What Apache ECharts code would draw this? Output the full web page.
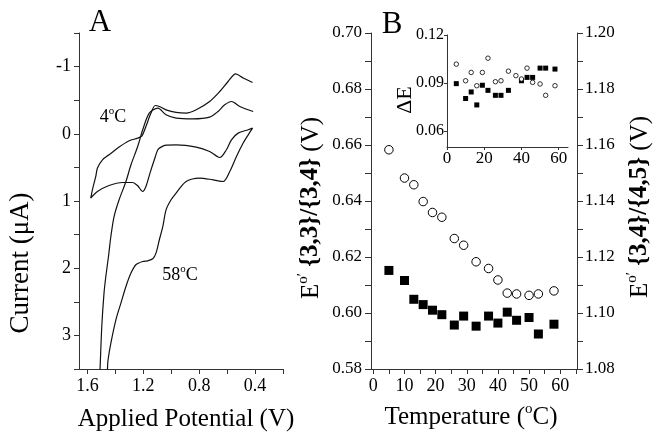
<!DOCTYPE html>
<html>
<head>
<meta charset="utf-8">
<script src="https://cdn.jsdelivr.net/npm/echarts@6/dist/echarts.min.js"></script>
<style>html,body{margin:0;padding:0;background:#fff}#c{width:653px;height:439px}</style>
</head>
<body>
<div id="c"></div>
<script>
// ---- Panel A: cyclic voltammograms (potential V, current uA) ----
var cv4_V = [0.418,0.485,0.538,0.593,0.653,0.725,0.821,0.893,0.965,1.037,1.085,1.114,1.145,1.181,1.209,1.240,1.301,1.373,1.445,1.492,1.528,1.540,1.564,1.576,1.528,1.445,1.348,1.276,1.240,1.204,1.181,1.152,1.121,1.096,1.073,1.037,0.965,0.821,0.725,0.653,0.605,0.569,0.521,0.449,0.418];
var cv4_I = [-0.763,-0.829,-0.893,-0.778,-0.629,-0.481,-0.357,-0.307,-0.318,-0.357,-0.406,-0.421,-0.308,-0.109,0.030,0.064,0.104,0.198,0.313,0.387,0.510,0.635,0.833,0.957,0.859,0.769,0.725,0.725,0.774,0.859,0.784,0.585,0.387,0.238,0.198,0.168,0.164,0.198,0.263,0.353,0.238,0.089,-0.010,-0.060,-0.085];
var cv58_V = [0.413,0.509,0.567,0.617,0.665,0.725,0.845,0.965,1.037,1.096,1.157,1.204,1.240,1.288,1.324,1.373,1.409,1.432,1.449,1.468,1.481,1.497,1.509,1.515,1.461,1.456,1.452,1.432,1.396,1.360,1.324,1.288,1.253,1.204,1.168,1.132,1.109,1.085,1.060,1.037,1.001,0.965,0.893,0.797,0.701,0.629,0.581,0.533,0.485,0.449,0.418];
var cv58_I = [-0.332,-0.406,-0.481,-0.432,-0.332,-0.249,-0.223,-0.234,-0.283,-0.382,-0.308,-0.060,0.189,0.461,0.710,0.982,1.231,1.528,1.826,2.124,2.371,2.868,3.487,3.81,3.81,3.487,3.363,3.115,2.768,2.519,2.272,2.073,1.949,1.900,1.890,1.860,1.775,1.577,1.379,1.131,0.982,0.882,0.710,0.659,0.685,0.710,0.561,0.338,0.138,0.015,-0.085];
var potTickLabels = [1.6, 1.2, 0.8, 0.4];
var currentTickLabels = [-1, 0, 1, 2, 3];

// ---- Panel B: formal potentials vs temperature ----
var temps = [5,10,13,16,19,22,26,29,33,37,40,43,46,50,53,58];
var E33_34 = [0.6152,0.6116,0.6049,0.6030,0.6010,0.5994,0.5957,0.5989,0.5953,0.5989,0.5964,0.6003,0.5974,0.5984,0.5925,0.5960];
var E34_45 = [1.1583,1.1482,1.1458,1.1398,1.1359,1.1342,1.1266,1.1242,1.1183,1.1159,1.1118,1.1071,1.1068,1.1063,1.1068,1.1079];
var tempTickLabels = [0,10,20,30,40,50,60];
var leftTickLabels = [0.58,0.60,0.62,0.64,0.66,0.68,0.70];
var rightTickLabels = [1.08,1.10,1.12,1.14,1.16,1.18,1.20];

// ---- Inset: peak separation dE ----
var insetTempsCircle = [5,10,13,16,19,22,26,29,33,37,40,43,46,50,53,58];
var dE_circle = [0.1018,0.0914,0.0966,0.0883,0.0966,0.1055,0.0908,0.0914,0.0974,0.0946,0.0925,0.0993,0.0904,0.0894,0.0823,0.0883];
var insetTempsSquare = [5,10,13,16,19,22,26,29,33,40,43,46,50,53,58];
var dE_square = [0.0896,0.0803,0.0844,0.0763,0.0886,0.0854,0.0823,0.0823,0.0854,0.0914,0.0935,0.0935,0.0993,0.0993,0.0987];
var insetXLabels = [0,20,40,60];
var insetYLabels = [0.06,0.09,0.12];

function zip(a,b){ return a.map(function(v,i){ return [v,b[i]]; }); }
function range(a,b,step,div){ var r=[]; for(var k=a;k<=b;k+=step) r.push(k/div); return r; }

var FF = '"Liberation Serif","Times New Roman",serif';
var AX = '#333';
function axisBase(o){
  var base = {
    type:'value', splitLine:{show:false},
    axisLine:{show:true, onZero:false, lineStyle:{color:AX, width:1}},
    axisTick:{show:true, inside:false, length:5, lineStyle:{color:AX, width:1}},
    axisLabel:{color:'#000', fontFamily:FF, fontSize:18, margin:8}
  };
  for (var k in o){
    if (typeof o[k]==='object' && !Array.isArray(o[k]) && base[k]) { for (var j in o[k]) base[k][j]=o[k][j]; }
    else base[k]=o[k];
  }
  return base;
}

var chart = echarts.init(document.getElementById('c'), null, {renderer:'canvas'});
var supRich = {
  n:{fontSize:18, fontFamily:FF, color:'#000', lineHeight:22, fontWeight:'normal'},
  s:{fontSize:11, fontFamily:FF, color:'#000', verticalAlign:'top', lineHeight:22, fontWeight:'normal'},
  N:{fontSize:25, fontFamily:FF, color:'#000', lineHeight:30, fontWeight:'normal'},
  S:{fontSize:15, fontFamily:FF, color:'#000', verticalAlign:'top', lineHeight:30, fontWeight:'normal'}
};

var option = {
  animation:false,
  backgroundColor:'#fff',
  grid:[
    {left:79, top:33, width:204, height:336, outerBoundsMode:'none', containLabel:false},
    {left:371, top:33, width:206, height:336, outerBoundsMode:'none', containLabel:false},
    {left:447, top:35, width:121, height:112, outerBoundsMode:'none', containLabel:false}
  ],
  xAxis:[
    axisBase({gridIndex:0, inverse:true, min:0.2, max:1.66, position:'bottom',
      axisTick:{customValues:range(2,16,2,10)},
      axisLabel:{customValues:potTickLabels, formatter:function(v){return v.toFixed(1);}}}),
    axisBase({gridIndex:1, min:-0.75, max:65.4, position:'bottom',
      axisTick:{customValues:range(0,65,5,1)},
      axisLabel:{customValues:tempTickLabels, fontSize:18}}),
    axisBase({gridIndex:2, min:0, max:65, position:'bottom',
      axisTick:{customValues:insetXLabels, length:3},
      axisLabel:{customValues:insetXLabels, fontSize:17, margin:3}})
  ],
  yAxis:[
    axisBase({gridIndex:0, inverse:true, min:-1.5, max:3.5, position:'left',
      axisTick:{customValues:range(-15,35,5,10)},
      axisLabel:{customValues:currentTickLabels, formatter:function(v){return String(Math.round(v));}}}),
    axisBase({gridIndex:1, min:0.58, max:0.70, position:'left',
      axisTick:{customValues:range(58,70,1,100), length:6},
      axisLabel:{customValues:leftTickLabels, fontSize:17, margin:9, formatter:function(v){return v.toFixed(2);}}}),
    axisBase({gridIndex:1, min:1.08, max:1.20, position:'right',
      axisTick:{customValues:range(108,120,1,100), length:6},
      axisLabel:{customValues:rightTickLabels, fontSize:17, margin:8, formatter:function(v){return v.toFixed(2);}}}),
    axisBase({gridIndex:2, min:0.05, max:0.12, position:'left',
      axisTick:{customValues:insetYLabels, length:3},
      axisLabel:{customValues:insetYLabels, fontSize:16, margin:3, formatter:function(v){return v.toFixed(2);}}})
  ],
  series:[
    {type:'line', name:'4C', xAxisIndex:0, yAxisIndex:0, data:zip(cv4_V,cv4_I), showSymbol:false, symbol:'none',
      smooth:0.3, clip:true, lineStyle:{color:'#111', width:1.2}},
    {type:'line', name:'58C', xAxisIndex:0, yAxisIndex:0, data:zip(cv58_V,cv58_I), showSymbol:false, symbol:'none',
      smooth:0.3, clip:true, lineStyle:{color:'#111', width:1.2}},
    {type:'scatter', xAxisIndex:1, yAxisIndex:1, data:zip(temps,E33_34), symbol:'rect', symbolSize:9,
      itemStyle:{color:'#000', opacity:1}},
    {type:'scatter', xAxisIndex:1, yAxisIndex:2, data:zip(temps,E34_45), symbol:'circle', symbolSize:8.5,
      itemStyle:{color:'#fff', borderColor:'#000', borderWidth:1, opacity:1}},
    {type:'scatter', xAxisIndex:2, yAxisIndex:3, data:zip(insetTempsSquare,dE_square), symbol:'rect', symbolSize:5,
      itemStyle:{color:'#000', opacity:1}},
    {type:'scatter', xAxisIndex:2, yAxisIndex:3, data:zip(insetTempsCircle,dE_circle), symbol:'circle', symbolSize:4.5,
      itemStyle:{color:'#fff', borderColor:'#000', borderWidth:0.8, opacity:1}}
  ],
  graphic:[
    {type:'text', x:100, y:23, style:{text:'A', fontSize:31, fontFamily:FF, fill:'#000', align:'center', verticalAlign:'middle'}},
    {type:'text', x:392, y:25, style:{text:'B', fontSize:31, fontFamily:FF, fill:'#000', align:'center', verticalAlign:'middle'}},
    {type:'text', x:113, y:117, style:{text:'{n|4}{s|o}{n|C}', rich:supRich, align:'center', verticalAlign:'middle'}},
    {type:'text', x:180, y:275, style:{text:'{n|58}{s|o}{n|C}', rich:supRich, align:'center', verticalAlign:'middle'}},
    {type:'text', x:186, y:419, style:{text:'Applied Potential (V)', fontSize:25, fontFamily:FF, fill:'#000', align:'center', verticalAlign:'middle'}},
    {type:'text', x:471, y:417, style:{text:'{N|Temperature (}{S|o}{N|C)}', rich:supRich, align:'center', verticalAlign:'middle'}},
    {type:'text', x:21, y:263, rotation:Math.PI/2, style:{text:'Current (\u03bcA)', fontSize:27, fontFamily:FF, fill:'#000', align:'center', verticalAlign:'middle'}},
    {type:'text', x:311, y:208, rotation:Math.PI/2, style:{text:'{N|E}{S|o\u2032} {3,3}/{3,4} {N|(V)}', rich:supRich, fontSize:25, fontWeight:'bold', fontFamily:FF, fill:'#000', align:'center', verticalAlign:'middle'}},
    {type:'text', x:640, y:207, rotation:Math.PI/2, style:{text:'{N|E}{S|o\u2032} {3,4}/{4,5} {N|(V)}', rich:supRich, fontSize:25, fontWeight:'bold', fontFamily:FF, fill:'#000', align:'center', verticalAlign:'middle'}},
    {type:'text', x:405, y:100, rotation:Math.PI/2, style:{text:'\u0394E', fontSize:22, fontFamily:FF, fill:'#000', align:'center', verticalAlign:'middle'}}
  ]
};
chart.setOption(option);
</script>
</body>
</html>
